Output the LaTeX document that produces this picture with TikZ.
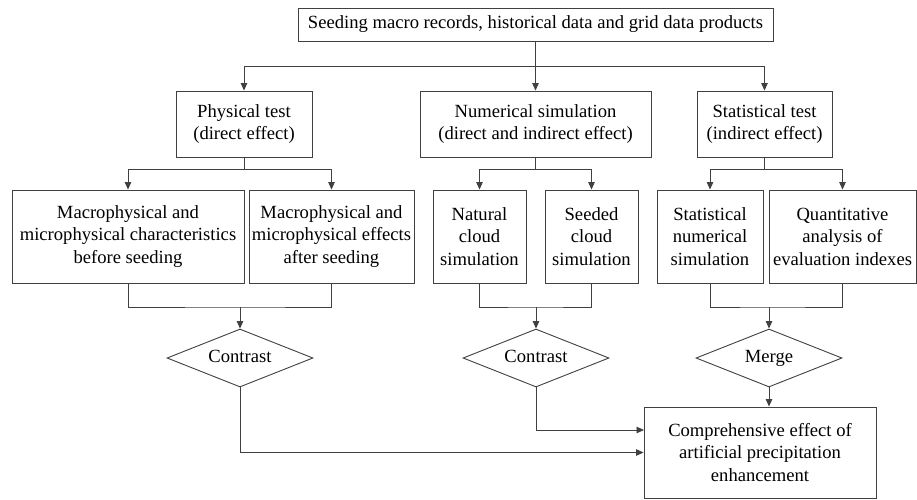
\documentclass[tikz,border=0pt]{standalone}
\usepackage{fontspec}
\setmainfont{Liberation Serif}
\usepackage{tikz}
\usetikzlibrary{arrows.meta,shapes.geometric}

\begin{document}
\begin{tikzpicture}[
  x=1pt,y=-1pt,
  font=\fontsize{18.6}{22.5}\selectfont,
  box/.style={draw=black!75,line width=0.9pt,inner sep=0pt,align=center,minimum height=66pt},
  decide/.style={draw=black!75,line width=0.9pt,diamond,aspect=2.5,inner sep=0pt,text height=12pt,text depth=4pt,minimum width=146pt,minimum height=58pt},
  line/.style={draw=black!75,line width=0.9pt},
  arrow/.style={line,-{Triangle[length=7.5pt,width=6.5pt]}}
]
\useasboundingbox (0,0) rectangle (917,499);
\node[box,minimum width=475pt,minimum height=33pt] (src) at (535.5,24.5) {Seeding macro records, historical data and grid data products};
\node[box,minimum width=136pt] (phys) at (244,124) {Physical test\\(direct effect)};
\node[box,minimum width=231pt] (numsim) at (535.5,124) {Numerical simulation\\(direct and indirect effect)};
\node[box,minimum width=135pt] (stattest) at (764.5,124) {Statistical test\\(indirect effect)};
\node[box,minimum width=232pt,minimum height=93pt] (before) at (128,236.5) {Macrophysical and\\microphysical characteristics\\before seeding};
\node[box,minimum width=165pt,minimum height=93pt] (after) at (331.5,236.5) {Macrophysical and\\microphysical effects\\after seeding};
\node[box,minimum width=93pt,minimum height=93pt] (natural) at (479.5,236.5) {Natural\\cloud\\simulation};
\node[box,minimum width=93pt,minimum height=93pt] (seeded) at (591.5,236.5) {Seeded\\cloud\\simulation};
\node[box,minimum width=106pt,minimum height=93pt] (statsim) at (710,236.5) {Statistical\\numerical\\simulation};
\node[box,minimum width=147pt,minimum height=93pt] (quant) at (842.5,236.5) {Quantitative\\analysis of\\evaluation indexes};
\node[decide] (cmp1) at (240,358) {Contrast};
\node[decide] (cmp2) at (536,358) {Contrast};
\node[decide] (merge) at (769,358) {Merge};
\node[box,minimum width=232pt,minimum height=91pt] (result) at (760,452.5) {Comprehensive effect of\\artificial precipitation\\enhancement};
% junctions
\coordinate (j0) at (535.5,66);
\coordinate (j1) at (244,169);
\coordinate (j2) at (535.5,169);
\coordinate (j3) at (764.5,169);
\coordinate (m1) at (240,307);
\coordinate (m2) at (536,307);
\coordinate (m3) at (769,307);
\coordinate (in2) at (644,430);
% top level
\draw[line] (src) -- (j0);
\draw[arrow] (j0) -| (phys);
\draw[arrow] (j0) -- (numsim);
\draw[arrow] (j0) -| (stattest);
% second level
\draw[line] (phys) -- (j1);
\draw[arrow] (j1) -| (before);
\draw[arrow] (j1) -| (after);
\draw[line] (numsim) -- (j2);
\draw[arrow] (j2) -| (natural);
\draw[arrow] (j2) -| (seeded);
\draw[line] (stattest) -- (j3);
\draw[arrow] (j3) -| (statsim);
\draw[arrow] (j3) -| (quant);
% merging
\draw[line] (before) |- (m1) -| (after);
\draw[arrow] (m1) -- (cmp1);
\draw[line] (natural) |- (m2) -| (seeded);
\draw[arrow] (m2) -- (cmp2);
\draw[line] (statsim) |- (m3) -| (quant);
\draw[arrow] (m3) -- (merge);
\draw[arrow] (merge) -- (merge |- result.north);
\draw[arrow] (cmp1) |- (result);
\draw[arrow] (cmp2) |- (in2);
\end{tikzpicture}
\end{document}
